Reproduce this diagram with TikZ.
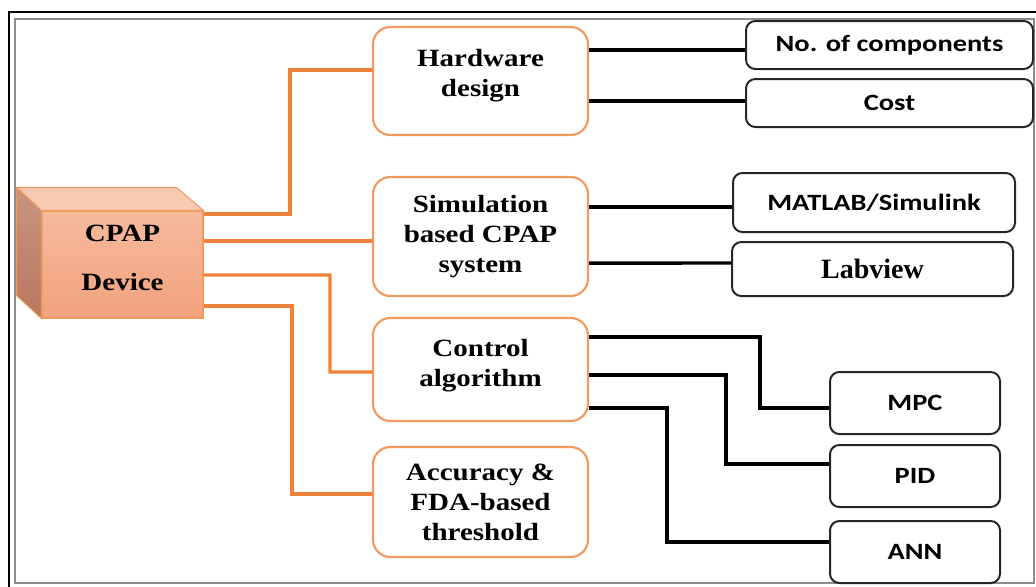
\documentclass[tikz,border=0pt]{standalone}
\usepackage{fontspec}
\usepackage{tikz}
\newfontfamily\boxserif{Liberation Serif}[FakeStretch=1.17]
\newfontfamily\labserif{Liberation Serif}
\newfontfamily\boxsans{Carlito}[FakeStretch=1.22]
\definecolor{linkorange}{HTML}{EE8238}
\definecolor{boxorange}{HTML}{F29A5E}
\definecolor{cpapfronttop}{HTML}{F6BA9D}
\definecolor{cpapfrontbot}{HTML}{F2A27E}
\definecolor{cpaptop}{HTML}{F8CAB3}
\definecolor{cpapsidetop}{HTML}{C8957F}
\definecolor{cpapsidebot}{HTML}{B9775F}
\definecolor{framegray}{HTML}{8C8C8C}

\begin{document}
\begin{tikzpicture}[
    x=0.75pt, y=-0.75pt,
    topic/.style={rectangle, draw=boxorange, line width=1.6pt, rounded corners=13pt, align=center, inner sep=0pt,
        minimum width=161.25pt, font=\boxserif\bfseries\fontsize{18.6}{22.5}\selectfont},
    item/.style={rectangle, draw=black!85, line width=1.5pt, rounded corners=7pt, align=center, inner sep=0pt,
        font=\boxsans\bfseries\fontsize{17.5}{21}\selectfont},
    orangelink/.style={draw=linkorange, line width=2.5pt},
    blacklink/.style={draw=black, line width=2.6pt}
]
\useasboundingbox (0,0) rectangle (1036,586);
% frame
\draw[black, line width=1.6pt] (9,12) rectangle (1046,596);
\draw[framegray, line width=1.6pt] (15,19) rectangle (1034,583);

% CPAP block
\node[rectangle, draw=boxorange, line width=0.8pt, top color=cpapfronttop, bottom color=cpapfrontbot,
    minimum width=120.75pt, minimum height=80.25pt, inner sep=0pt, align=center,
    font=\boxserif\bfseries\fontsize{18.6}{22.5}\selectfont] (cpap) at (122.5,264.5) {CPAP\\[14pt]Device\\[-12pt]\mbox{}};
\draw[boxorange, line width=0.8pt, fill=cpaptop] (cpap.north west) -- ++(-25,-23) -- ++(160,0) -- (cpap.north east) -- cycle;
\draw[boxorange, line width=0.8pt, top color=cpapsidetop, bottom color=cpapsidebot] (cpap.north west) -- ++(-25,-23) -- ++(0,108) -- (cpap.south west) -- cycle;

\node[topic, minimum height=81pt] (hw) at (480.5,81) {Hardware\\design\\[-10pt]\mbox{}};
\node[topic, minimum height=89.25pt] (sim) at (480.5,236.5) {Simulation\\based CPAP\\system};
\node[topic, minimum height=77.25pt] (ctrl) at (480.5,369.5) {Control\\algorithm\\[-12pt]\mbox{}};
\node[topic, minimum height=82.5pt] (acc) at (480.5,502) {Accuracy \&\\FDA-based\\threshold};

\node[item, minimum width=215.25pt, minimum height=36pt] (comp) at (889.5,45) {No. of components};
\node[item, minimum width=215.25pt, minimum height=36pt] (cost) at (889.5,103) {Cost};
\node[item, minimum width=211.5pt, minimum height=44.25pt] (matlab) at (874,202.5) {MATLAB/Simulink};
\node[item, minimum width=210.75pt, minimum height=40.5pt, font=\labserif\bfseries\fontsize{21}{24}\selectfont] (labview) at (872.5,269) {Labview};
\node[item, minimum width=127.5pt, minimum height=46.5pt] (mpc) at (915,403) {MPC};
\node[item, minimum width=127.5pt, minimum height=46.5pt] (pid) at (915,476) {PID};
\node[item, minimum width=127.5pt, minimum height=46.5pt] (ann) at (915,552) {ANN};

% orange links
\draw[orangelink] ([yshift=37.9pt]cpap.east) -| (290,70) -- ([yshift=8.25pt]hw.west);
\draw[orangelink] ([yshift=17.6pt]cpap.east) -- ([yshift=-3.4pt]sim.west);
\draw[orangelink] ([yshift=-7.9pt]cpap.east) -| (330,372) -- ([yshift=-1.9pt]ctrl.west);
\draw[orangelink] ([yshift=-31.1pt]cpap.east) -| (292,494) -- ([yshift=6pt]acc.west);

% black links
\draw[blacklink] ([yshift=23.25pt]hw.east) -- ([yshift=-3.75pt]comp.west);
\draw[blacklink] ([yshift=-15pt]hw.east) -- ([yshift=1.5pt]cost.west);
\draw[blacklink] ([yshift=22.1pt]sim.east) -- ([yshift=-3.4pt]matlab.west);
\draw[blacklink] ([yshift=-19.9pt]sim.east) -- ([yshift=4.5pt]labview.west);
\draw[blacklink] ([yshift=24.4pt]ctrl.east) -| (760,408) -- ([yshift=-3.75pt]mpc.west);
\draw[blacklink] ([yshift=-4.1pt]ctrl.east) -| (726,464) -- ([yshift=9pt]pid.west);
\draw[blacklink] ([yshift=-28.9pt]ctrl.east) -| (667,542) -- ([yshift=7.5pt]ann.west);
\end{tikzpicture}
\end{document}
